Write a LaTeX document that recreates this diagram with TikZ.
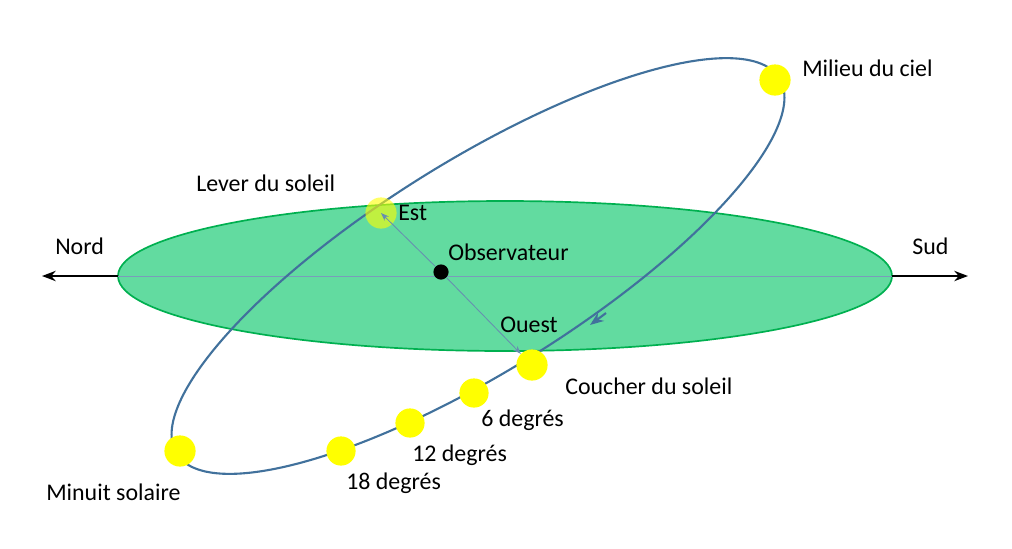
\documentclass[tikz,border=0pt]{standalone}
\usepackage{fontspec}
\setmainfont{Carlito}
\usetikzlibrary{positioning, arrows}
\usetikzlibrary{arrows.meta}
\definecolor{orbite}{RGB}{65,113,156}
\definecolor{sol}{RGB}{98,219,160}
\definecolor{bord}{RGB}{0,176,80}
\definecolor{jaune}{RGB}{255,255,0}
\tikzset{
  soleil/.style={circle, fill=jaune, minimum size=0.78cm, inner sep=0pt},
  crep/.style={circle, fill=jaune, minimum size=0.73cm, inner sep=0pt},
  lbl/.style={inner sep=0pt, anchor=west, font=\fontsize{17}{20}\selectfont},
}
\begin{document}
\begin{tikzpicture}[x=0.025cm, y=-0.025cm, >=Stealth]
    \useasboundingbox (0,0) rectangle (1012,548);

    % Define horizon
    \draw[bord, line width=1.2pt, fill=sol] (505,276) ellipse [x radius=387, y radius=75];
    \coordinate (nordend) at (42,276);
    \coordinate (sudend) at (968,276);
    \coordinate (nordbord) at (118,276);
    \coordinate (sudbord) at (892,276);
    \draw[->, line width=1.5pt] (nordbord) -- (nordend);
    \draw[->, line width=1.5pt] (sudbord) -- (sudend);
    \draw[orbite!70, line width=0.6pt] (nordbord) -- (sudbord);

    % Define orbit
    \draw[orbite, line width=1.5pt] plot[domain=0:360, samples=120, smooth cycle, variable=\t]
      ({478+355*0.849*cos(\t)+105*0.529*sin(\t)}, {266-355*0.529*cos(\t)+105*0.849*sin(\t)});
    \coordinate (fa) at (606,313);
    \coordinate (fb) at (590,325);
    \draw[->, orbite, line width=1.5pt] (fa) -- (fb);

    % Define suns
    \node[soleil] (milieu) at (775,80) {};
    \node[soleil] (minuit) at (180,451) {};
    \node[soleil] (coucher) at (532,365) {};
    \node[soleil, opacity=0.6] (lever) at (381,213) {};
    \node[crep] (six) at (474,393) {};
    \node[crep] (douze) at (410,423) {};
    \node[crep] (dixhuit) at (341,451) {};
    \node[circle, fill=black, minimum size=0.38cm, inner sep=0pt] (obs) at (441,272) {};

    % Draw directions
    \draw[->, orbite!80, line width=0.6pt] (obs) -- (lever.center);
    \draw[->, orbite!80, line width=0.6pt] (obs) -- (coucher.north west);

    % Add labels
    \node[lbl] (lmilieu) at (802,68) {Milieu du ciel};
    \node[lbl] (llever) at (196,183) {Lever du soleil};
    \node[lbl] (lest) at (398,213) {Est};
    \node[lbl] (lobs) at (448,252) {Observateur};
    \node[lbl] (louest) at (500,325) {Ouest};
    \node[lbl] (lcoucher) at (565,386) {Coucher du soleil};
    \node[lbl] (lsix) at (481,420) {6 degrés};
    \node[lbl] (ldouze) at (412,455) {12 degrés};
    \node[lbl] (ldixhuit) at (346,483) {18 degrés};
    \node[lbl] (lminuit) at (46,492) {Minuit solaire};
    \node[lbl] (lnord) at (55,246) {Nord};
    \node[lbl] (lsud) at (912,246) {Sud};
\end{tikzpicture}
\end{document}
